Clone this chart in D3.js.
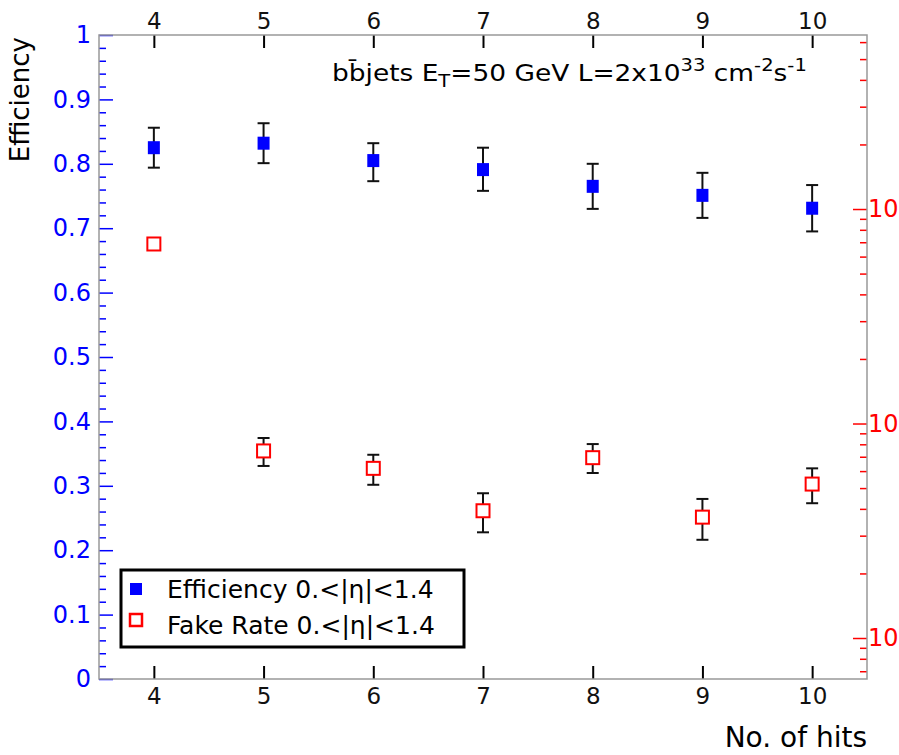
<!DOCTYPE html>
<html>
<head>
<meta charset="utf-8">
<script src="https://cdn.jsdelivr.net/npm/d3@7"></script>
<style>
  body { margin: 0; background: #fff; }
  svg { display: block; font-family: "DejaVu Sans", sans-serif; }
</style>
</head>
<body>
<div id="chart"></div>
<script>
// data
const hits = [4, 5, 6, 7, 8, 9, 10];
const effVal = [0.825, 0.832, 0.805, 0.791, 0.765, 0.751, 0.731];
const effUp  = [0.856, 0.863, 0.832, 0.825, 0.800, 0.786, 0.767];
const effLo  = [0.794, 0.801, 0.773, 0.758, 0.730, 0.716, 0.695];
// fake rate on the right (log) axis
const fakeVal = [0.0687, 0.00745, 0.00618, 0.00392, 0.00693, 0.00366, 0.00522];
const fakeUp  = [0.0687, 0.00856, 0.00715, 0.00473, 0.00802, 0.00445, 0.00618];
const fakeLo  = [0.0687, 0.00634, 0.00518, 0.00311, 0.00588, 0.00287, 0.00425];

const xTicks = [4, 5, 6, 7, 8, 9, 10];
const leftTicks = [0, 0.1, 0.2, 0.3, 0.4, 0.5, 0.6, 0.7, 0.8, 0.9, 1];
const rightDecades = [1e-3, 1e-2, 1e-1];

const W = 899, H = 755;
const margin = { top: 35, right: 32, bottom: 76, left: 99 };
const width = W - margin.left - margin.right,
  height = H - margin.top - margin.bottom;

const blue = "#0000ff", red = "#ff0000", frameGray = "#999999";
const FONT = "DejaVu Sans, sans-serif";

const svg = d3.select("#chart")
  .append("svg")
  .attr("width", W)
  .attr("height", H)
  .append("g")
  .attr("transform", `translate(${margin.left}, ${margin.top})`);

const x = d3.scaleLinear().domain([3.5, 10.5]).range([0, width]);
const yL = d3.scaleLinear().domain([0, 1]).range([height, 0]);
const yR = d3.scaleLog().domain([6.44e-4, 0.6476]).range([height, 0]);

// minor ticks
const leftMinor = d3.range(0, 51).map(i => i / 50).filter(v => Math.round(v * 50) % 5 !== 0);
let rightMinor = [];
[1e-4, 1e-3, 1e-2, 1e-1].forEach(d => {
  for (let k = 2; k <= 9; k++) {
    const v = d * k;
    if (v > yR.domain()[0] && v < yR.domain()[1]) rightMinor.push(v);
  }
});

// left axis (blue)
svg.append("g")
  .call(d3.axisLeft(yL).tickValues(leftMinor).tickSizeInner(-7).tickSizeOuter(0).tickFormat(""))
  .call(g => g.select(".domain").remove())
  .call(g => g.selectAll("line").attr("stroke", blue).attr("stroke-width", 1.5));
svg.append("g")
  .call(d3.axisLeft(yL).tickValues(leftTicks).tickSizeInner(-14).tickSizeOuter(0)
    .tickPadding(8).tickFormat(d => d === 0 || d === 1 ? d3.format("d")(d) : d3.format(".1f")(d)))
  .call(g => g.select(".domain").remove())
  .call(g => g.selectAll("line").attr("stroke", blue).attr("stroke-width", 1.5))
  .call(g => g.selectAll("text").attr("fill", blue).attr("font-size", 24).attr("font-family", FONT));

// right axis (red, log)
svg.append("g").attr("transform", `translate(${width},0)`)
  .call(d3.axisRight(yR).tickValues(rightMinor).tickSizeInner(-7).tickSizeOuter(0).tickFormat(""))
  .call(g => g.select(".domain").remove())
  .call(g => g.selectAll("line").attr("stroke", red).attr("stroke-width", 1.5));
svg.append("g").attr("transform", `translate(${width},0)`)
  .call(d3.axisRight(yR).tickValues(rightDecades).tickSizeInner(-14).tickSizeOuter(0)
    .tickPadding(1).tickFormat(() => "10"))
  .call(g => g.select(".domain").remove())
  .call(g => g.selectAll("line").attr("stroke", red).attr("stroke-width", 1.5))
  .call(g => g.selectAll("text").attr("fill", red).attr("font-size", 24).attr("font-family", FONT));

// bottom and top axes
svg.append("g")
  .attr("transform", `translate(0, ${height})`)
  .call(d3.axisBottom(x).tickValues(xTicks).tickSizeInner(-13).tickSizeOuter(0).tickPadding(9)
    .tickFormat(d3.format("d")))
  .call(g => g.select(".domain").remove())
  .call(g => g.selectAll("line").attr("stroke", "#000").attr("stroke-width", 2))
  .call(g => g.selectAll("text").attr("fill", "#111").attr("font-size", 23).attr("font-family", FONT));
svg.append("g")
  .call(d3.axisTop(x).tickValues(xTicks).tickSizeInner(-13).tickSizeOuter(0).tickPadding(6)
    .tickFormat(d3.format("d")))
  .call(g => g.select(".domain").remove())
  .call(g => g.selectAll("line").attr("stroke", "#000").attr("stroke-width", 2))
  .call(g => g.selectAll("text").attr("fill", "#111").attr("font-size", 23).attr("font-family", FONT));

// frame
svg.append("rect")
  .attr("x", 0).attr("y", 0).attr("width", width).attr("height", height)
  .attr("fill", "none").attr("stroke", frameGray).attr("stroke-width", 1.5);

// axis titles
svg.append("text")
  .attr("transform", `translate(${-margin.left + 29}, 2) rotate(-90)`)
  .attr("text-anchor", "end")
  .attr("font-size", 26)
  .attr("fill", "#000")
  .text("Efficiency");

svg.append("text")
  .attr("x", width)
  .attr("y", height + 68)
  .attr("text-anchor", "end")
  .attr("font-size", 28)
  .attr("fill", "#000")
  .text("No. of hits");

// title, stretched horizontally like the original
const titleG = svg.append("g").attr("transform", `translate(233, 46)`);
const title = titleG.append("text")
  .attr("font-size", 23)
  .attr("fill", "#000");
title.append("tspan").text("bb\u0304jets E");
title.append("tspan").attr("font-size", 17).attr("dy", 6).text("T");
title.append("tspan").attr("dy", -6).text("=50 GeV L=2x10");
title.append("tspan").attr("font-size", 17).attr("dy", -10).text("33");
title.append("tspan").attr("dy", 10).text(" cm");
title.append("tspan").attr("font-size", 17).attr("dy", -10).text("-2");
title.append("tspan").attr("dy", 10).text("s");
title.append("tspan").attr("font-size", 17).attr("dy", -10).text("-1");
const tw = title.node().getBBox().width;
title.attr("transform", `scale(${475 / tw}, 1)`);

// error bars + markers
const cap = 6;
function errorBars(ups, los, y) {
  const g = svg.append("g").attr("stroke", "#111").attr("stroke-width", 2);
  hits.forEach((h, i) => {
    if (ups[i] === los[i]) return;
    const cx = x(h);
    g.append("line").attr("x1", cx).attr("x2", cx).attr("y1", y(ups[i])).attr("y2", y(los[i]));
    g.append("line").attr("x1", cx - cap).attr("x2", cx + cap).attr("y1", y(ups[i])).attr("y2", y(ups[i]));
    g.append("line").attr("x1", cx - cap).attr("x2", cx + cap).attr("y1", y(los[i])).attr("y2", y(los[i]));
  });
}
errorBars(effUp, effLo, yL);
errorBars(fakeUp, fakeLo, yR);

svg.selectAll(".eff")
  .data(hits.map((h, i) => ({ h, v: effVal[i] })))
  .join("rect")
  .attr("class", "eff")
  .attr("x", d => x(d.h) - 6)
  .attr("y", d => yL(d.v) - 6.5)
  .attr("width", 12)
  .attr("height", 13)
  .attr("fill", blue);

svg.selectAll(".fake")
  .data(hits.map((h, i) => ({ h, v: fakeVal[i] })))
  .join("rect")
  .attr("class", "fake")
  .attr("x", d => x(d.h) - 6.5)
  .attr("y", d => yR(d.v) - 6.5)
  .attr("width", 13)
  .attr("height", 13)
  .attr("fill", "#fff")
  .attr("stroke", red)
  .attr("stroke-width", 2);

// legend
const lg = svg.append("g").attr("transform", `translate(${121 - margin.left}, ${570 - margin.top})`);
lg.append("rect")
  .attr("width", 343).attr("height", 77)
  .attr("fill", "#fff").attr("stroke", "#000").attr("stroke-width", 3);
lg.append("rect").attr("x", 9).attr("y", 13).attr("width", 12).attr("height", 12).attr("fill", blue);
lg.append("rect").attr("x", 9).attr("y", 44).attr("width", 12).attr("height", 12)
  .attr("fill", "#fff").attr("stroke", red).attr("stroke-width", 2.5);
lg.append("text").attr("x", 46).attr("y", 28).attr("font-size", 25).attr("fill", "#000")
  .text("Efficiency 0.<|\u03b7|<1.4");
lg.append("text").attr("x", 46).attr("y", 64).attr("font-size", 25).attr("fill", "#000")
  .text("Fake Rate 0.<|\u03b7|<1.4");
</script>
</body>
</html>
